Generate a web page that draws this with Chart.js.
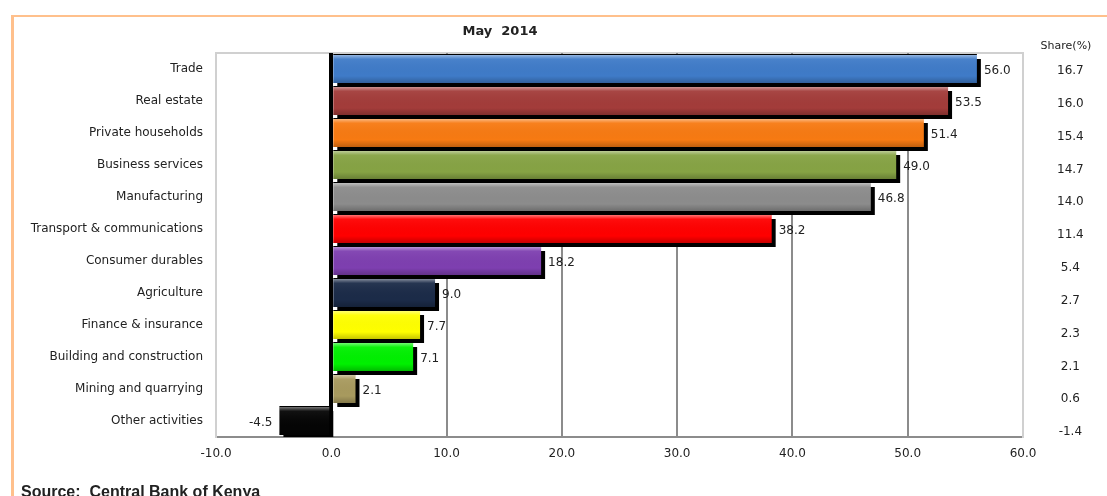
<!DOCTYPE html>
<html>
<head>
<meta charset="utf-8">
<script src="https://cdn.jsdelivr.net/npm/chart.js@4"></script>
<style>
  html, body { margin: 0; padding: 0; background: #fff; overflow: hidden; }
</style>
</head>
<body>
<canvas id="chart" width="1107" height="496"></canvas>
<script>
"use strict"

// growth by sector, May 2014
const sectors = [
  'Trade', 'Real estate', 'Private households', 'Business services',
  'Manufacturing', 'Transport & communications', 'Consumer durables',
  'Agriculture', 'Finance & insurance', 'Building and construction',
  'Mining and quarrying', 'Other activities'
];
const growth = [56.0, 53.5, 51.4, 49.0, 46.8, 38.2, 18.2, 9.0, 7.7, 7.1, 2.1, -4.5];
const shares = [16.7, 16.0, 15.4, 14.7, 14.0, 11.4, 5.4, 2.7, 2.3, 2.1, 0.6, -1.4];
const barColors = [
  '#3f7bc8', '#a33c3a', '#f77a12', '#86a344', '#8c8c8c', '#ff0000',
  '#7e3fb0', '#1b2b48', '#ffff00', '#00f000', '#a89a5e', '#050505'
];

const FONT = '"DejaVu Sans", Verdana, sans-serif';
const TEXT = '#222';

const decor = {
  id: 'decor',
  beforeDraw(chart) {
    const {ctx, chartArea: a} = chart;
    ctx.save();
    ctx.fillStyle = '#fff';
    ctx.fillRect(0, 0, chart.width, chart.height);
    // orange frame
    ctx.fillStyle = '#ffc08c';
    ctx.fillRect(11, 15, 3, chart.height - 15);
    ctx.fillRect(11, 15, chart.width - 11, 2);
    // top border of plot
    ctx.strokeStyle = '#d0d0d0';
    ctx.lineWidth = 2;
    ctx.beginPath();
    ctx.moveTo(a.left, a.top);
    ctx.lineTo(a.right, a.top);
    ctx.stroke();
    // texts
    ctx.fillStyle = TEXT;
    ctx.textAlign = 'center';
    ctx.textBaseline = 'middle';
    ctx.font = 'bold 13px ' + FONT;
    ctx.fillText('May  2014', 500, 32);
    ctx.font = '11px ' + FONT;
    ctx.fillText('Share(%)', 1066, 46);
    ctx.font = 'bold 16px "Liberation Sans", Arial, sans-serif';
    ctx.textAlign = 'left';
    ctx.textBaseline = 'alphabetic';
    ctx.fillText('Source:  Central Bank of Kenya', 21, 497);
    ctx.restore();
  },
  beforeDatasetsDraw(chart) {
    const {ctx} = chart;
    ctx.save();
    ctx.shadowColor = '#000';
    ctx.shadowOffsetX = 4;
    ctx.shadowOffsetY = 4;
    ctx.shadowBlur = 0;
  },
  afterDatasetsDraw(chart) {
    const {ctx} = chart;
    ctx.restore();
    const meta = chart.getDatasetMeta(0);
    ctx.save();
    // glossy bevel on each bar
    meta.data.forEach(bar => {
      const l = Math.min(bar.x, bar.base), r = Math.max(bar.x, bar.base);
      const t = bar.y - bar.height / 2, h = bar.height;
      const g = ctx.createLinearGradient(0, t, 0, t + h);
      g.addColorStop(0, 'rgba(255,255,255,0.45)');
      g.addColorStop(0.15, 'rgba(255,255,255,0.05)');
      g.addColorStop(0.75, 'rgba(0,0,0,0)');
      g.addColorStop(1, 'rgba(0,0,0,0.22)');
      ctx.fillStyle = g;
      ctx.fillRect(l, t, r - l, h);
      ctx.fillStyle = '#000';
      ctx.fillRect(l, t - 1, r - l, 1);
    });
    // value labels
    ctx.font = '12px ' + FONT;
    ctx.fillStyle = TEXT;
    ctx.textBaseline = 'middle';
    meta.data.forEach((bar, i) => {
      const v = growth[i];
      ctx.textAlign = v < 0 ? 'right' : 'left';
      ctx.fillText(v.toFixed(1), v < 0 ? bar.x - 7 : bar.x + 7, bar.y + 2);
    });
    ctx.restore();
  }
};

new Chart(document.getElementById('chart'), {
  type: 'bar',
  data: {
    labels: sectors,
    datasets: [{
      data: growth,
      backgroundColor: barColors,
      borderWidth: 0,
      barPercentage: 0.875,
      categoryPercentage: 1
    }]
  },
  options: {
    indexAxis: 'y',
    responsive: false,
    animation: false,
    layout: { padding: { top: 53, bottom: 29, left: 0, right: 0 } },
    plugins: { legend: { display: false }, tooltip: { enabled: false } },
    scales: {
      x: {
        min: -10, max: 60,
        afterFit: s => { s.height = 30; },
        ticks: {
          stepSize: 10, padding: 10, color: TEXT,
          font: { family: FONT, size: 12 },
          callback: v => v.toFixed(1)
        },
        grid: {
          drawTicks: false,
          color: c => c.tick && c.tick.value === 0 ? '#000'
            : (c.tick && (c.tick.value === -10 || c.tick.value === 60) ? '#d0d0d0' : '#8c8c8c'),
          lineWidth: c => c.tick && c.tick.value === 0 ? 4 : 2
        },
        border: { color: '#8c8c8c', width: 2 }
      },
      y: {
        afterFit: s => { s.width = 216; },
        ticks: { padding: 13, color: TEXT, font: { family: FONT, size: 12 } },
        grid: { display: false, drawTicks: false },
        border: { color: '#d0d0d0', width: 2 }
      },
      share: {
        type: 'linear',
        position: 'right',
        reverse: true,
        offset: false,
        min: -0.55, max: 11.15,
        afterFit: s => { s.width = 84; },
        afterBuildTicks: s => { s.ticks = shares.map((_, i) => ({ value: i })); },
        ticks: {
          autoSkip: false, padding: 34, crossAlign: 'center', color: TEXT,
          font: { family: FONT, size: 12 },
          callback: v => shares[v].toFixed(1)
        },
        grid: { display: false, drawTicks: false },
        border: { color: '#d0d0d0', width: 2 }
      }
    }
  },
  plugins: [decor]
});
</script>
</body>
</html>
